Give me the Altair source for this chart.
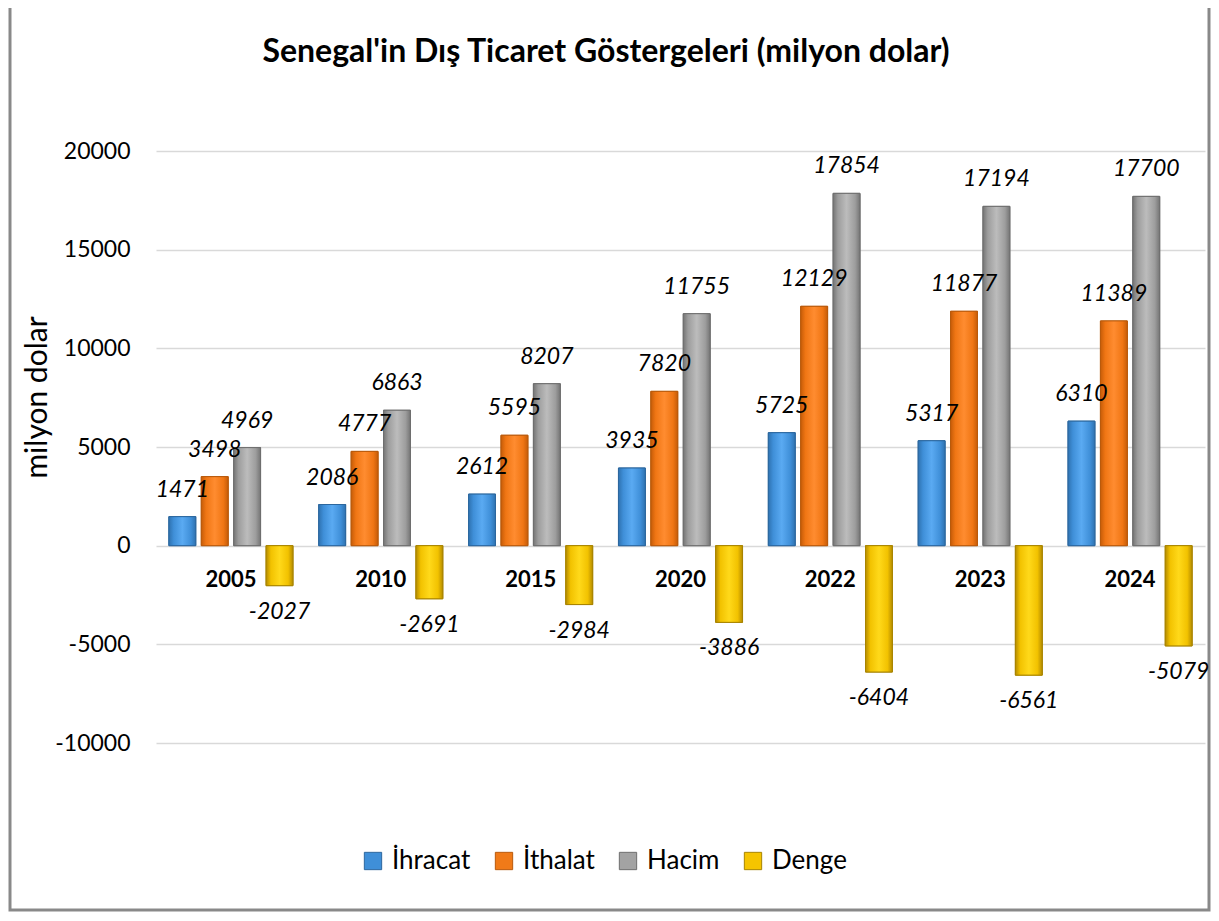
import altair as alt
import pandas as pd

years = ["2005", "2010", "2015", "2020", "2022", "2023", "2024"]
series = ["İhracat", "İthalat", "Hacim", "Denge"]
ihracat = [1471, 2086, 2612, 3935, 5725, 5317, 6310]
ithalat = [3498, 4777, 5595, 7820, 12129, 11877, 11389]
hacim = [4969, 6863, 8207, 11755, 17854, 17194, 17700]
denge = [-2027, -2691, -2984, -3886, -6404, -6561, -5079]
y_ticks = [-10000, -5000, 0, 5000, 10000, 15000, 20000]
title_text = "Senegal'in Dış Ticaret Göstergeleri (milyon dolar)"

rows = []
for name, vals in zip(series, [ihracat, ithalat, hacim, denge]):
    for yr, v in zip(years, vals):
        rows.append({"Yıl": yr, "Seri": name, "Değer": v})
df = pd.DataFrame(rows)

flat = ["#3f8fd8", "#f07a18", "#a3a3a3", "#f5c400"]
edge = ["#2c679e", "#b85a0c", "#6e6e6e", "#a88400"]
grad = {
    "İhracat": ("#2f72b0", "#3f8fd8", "#5aaaf2"),
    "İthalat": ("#c65c08", "#f07614", "#ff8c30"),
    "Hacim": ("#757575", "#9d9d9d", "#bcbcbc"),
    "Denge": ("#b58c00", "#f2c200", "#ffd91a"),
}

FONT = "Lato"
W, H = 1049, 592

x_enc = alt.X("Yıl:N", sort=years, axis=None,
              scale=alt.Scale(paddingInner=0.172, paddingOuter=0.086))
xo_enc = alt.XOffset("Seri:N", sort=series,
                     scale=alt.Scale(paddingInner=0.17, paddingOuter=0.0))
y_enc = alt.Y("Değer:Q",
              scale=alt.Scale(domain=[-10000, 20000], nice=False, zero=False),
              axis=alt.Axis(values=y_ticks, title="milyon dolar",
                            labelExpr="'' + datum.value",
                            grid=True, gridColor="#d9d9d9", gridWidth=1.5,
                            domain=False, ticks=False, labelPadding=26,
                            labelFont=FONT, labelFontSize=23, labelColor="#000",
                            titleFont=FONT, titleFontSize=30, titleFontWeight="normal",
                            titleColor="#000", titleAngle=270,
                            titleAlign="center", titleBaseline="middle",
                            titleX=-119, titleY=246))

base = alt.Chart(df).transform_calculate(lbl="'' + datum['Değer']")

bars = base.mark_bar().encode(
    x=x_enc, xOffset=xo_enc, y=y_enc,
    color=alt.Color("Seri:N", sort=series,
                    scale=alt.Scale(domain=series, range=flat),
                    legend=alt.Legend(title=None, orient="none", direction="horizontal",
                                      legendX=204, legendY=697,
                                      symbolType="square", symbolSize=300,
                                      symbolStrokeWidth=1,
                                      labelFont=FONT, labelFontSize=26, labelColor="#000",
                                      labelOffset=6, columnPadding=20)),
    stroke=alt.Stroke("Seri:N", sort=series,
                      scale=alt.Scale(domain=series, range=edge), legend=None),
)

overlays = []
for s in series:
    d, m, l = grad[s]
    g = alt.LinearGradient(
        gradient="linear", x1=0, y1=0, x2=1, y2=0,
        stops=[alt.GradientStop(offset=0, color=d),
               alt.GradientStop(offset=0.18, color=m),
               alt.GradientStop(offset=0.5, color=l),
               alt.GradientStop(offset=0.82, color=m),
               alt.GradientStop(offset=1, color=d)])
    overlays.append(
        base.transform_filter(alt.datum["Seri"] == s)
        .mark_bar(color=g, stroke=edge[series.index(s)], strokeWidth=1)
        .encode(x=x_enc, xOffset=xo_enc, y=y_enc)
    )

lab_pos = base.transform_filter(alt.datum["Değer"] >= 0).mark_text(
    font=FONT, fontSize=23, fontStyle="italic", color="#000",
    baseline="bottom", dy=-15
).encode(x=x_enc, xOffset=xo_enc, y=y_enc, text="lbl:N")

lab_neg = base.transform_filter(alt.datum["Değer"] < 0).mark_text(
    font=FONT, fontSize=23, fontStyle="italic", color="#000",
    baseline="top", dy=15
).encode(x=x_enc, xOffset=xo_enc, y=y_enc, text="lbl:N")

year_df = pd.DataFrame({"Yıl": years, "Değer": [0] * len(years)})
year_labels = alt.Chart(year_df).mark_text(
    font=FONT, fontSize=22, fontWeight="bold", color="#000",
    baseline="middle", dy=34
).encode(x=x_enc, y=y_enc, text="Yıl:N")

title_mark = alt.Chart(pd.DataFrame({"t": [title_text]})).mark_text(
    font=FONT, fontSize=32, fontWeight="bold", color="#000",
    align="center", baseline="middle"
).encode(x=alt.value(450), y=alt.value(-99), text="t:N")

frame = alt.Chart(pd.DataFrame({"f": [0]})).mark_rect(
    fillOpacity=0, stroke="#898989", strokeWidth=3
).encode(x=alt.value(-146), x2=alt.value(1053),
         y=alt.value(-200), y2=alt.value(759))

chart = alt.layer(frame, bars, *overlays, lab_pos, lab_neg, year_labels, title_mark).properties(
    width=W, height=H,
    autosize=alt.AutoSizeParams(type="none"),
    padding={"left": 148, "top": 143, "right": 6, "bottom": 170},
    background="white",
).configure_view(stroke=None)

chart.save("out.html", embed_options={"renderer": "svg", "actions": False})
